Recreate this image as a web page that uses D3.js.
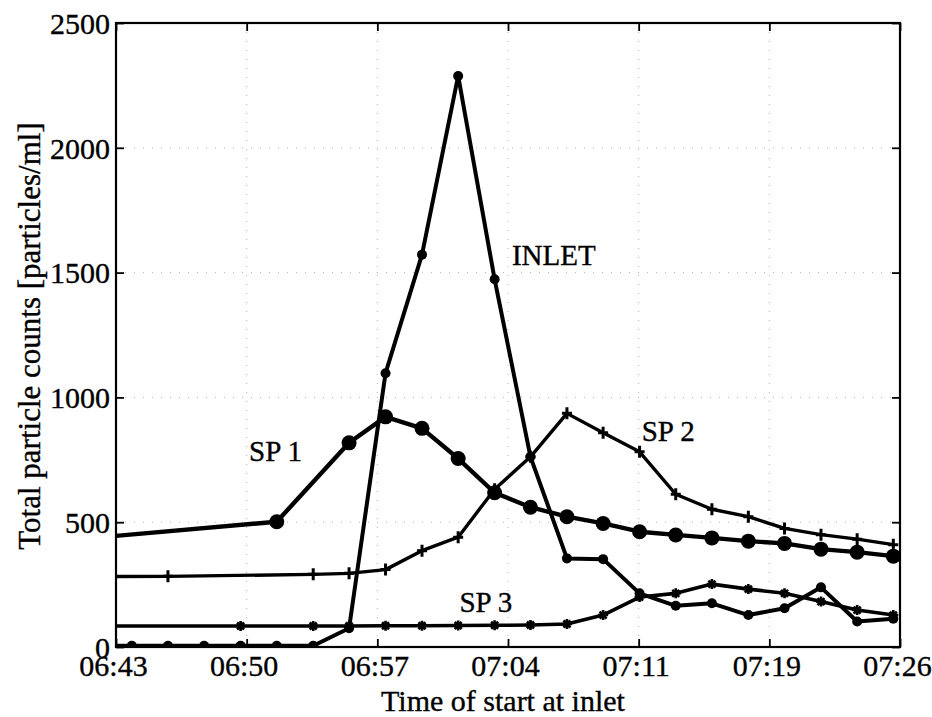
<!DOCTYPE html>
<html>
<head>
<meta charset="utf-8">
<script src="https://cdn.jsdelivr.net/npm/d3@7/dist/d3.min.js"></script>
<style>
  body { margin: 0; background: #fff; }
  svg text { font-family: "Liberation Serif", "DejaVu Serif", serif; fill: #000; stroke: #000; stroke-width: 0.35px; }
</style>
</head>
<body>
<div id="chart"></div>
<script>
// sample times (the first one lies just left of the axis and gets clipped)
var sampleTimes = ["06:41:53", "06:43:52", "06:45:51", "06:47:50", "06:49:50", "06:51:49", "06:53:49",
  "06:55:47", "06:57:47", "06:59:47", "07:01:46", "07:03:46", "07:05:44", "07:07:44", "07:09:43",
  "07:11:43", "07:13:42", "07:15:41", "07:17:41", "07:19:40", "07:21:40", "07:23:39", "07:25:38"];

// particles/ml, null = no sample
var inletValues = [5, 5, 5, 5, 5, 5, 5, 75, 1097, 1572, 2288, 1473, 762, 355, 352, 215, 165, 175, 128, 155, 239, 102, 113];
var sp1Values = [438, null, null, null, null, 502, null, 818, 922, 876, 755, 618, 560, 522, 495, 462, 449, 437, 424, 415, 392, 380, 364];
var sp2Values = [282, null, 283, null, null, null, 291, 295, 310, 386, 440, 632, 762, 936, 858, 782, 612, 552, 522, 475, 450, 432, 410];
var sp3Values = [84, null, null, null, 84, null, 84, 84, 85, 85, 86, 87, 88, 92, 128, 200, 215, 252, 232, 215, 182, 148, 128];

var xTickTimes = ["06:43:00", "06:50:10", "06:57:20", "07:04:30", "07:11:40", "07:18:50", "07:26:00"];
var xTickLabels = ["06:43", "06:50", "06:57", "07:04", "07:11", "07:19", "07:26"];
var yTicks = [0, 500, 1000, 1500, 2000, 2500];

var width = 932, height = 717;
// plot box in pixels (not "top": that name is taken by window.top)
var box = { left: 116, right: 900, top: 23, bottom: 647 };

var parseTime = d3.timeParse("%H:%M:%S");

var svg = d3.select("#chart").append("svg")
  .attr("width", width)
  .attr("height", height);

var x = d3.scaleTime()
  .domain([parseTime("06:43:00"), parseTime("07:26:00")])
  .range([box.left, box.right]);

var y = d3.scaleLinear()
  .domain([0, 2500])
  .range([box.bottom, box.top]);

svg.append("clipPath").attr("id", "plotclip")
  .append("rect")
  .attr("x", box.left).attr("y", box.top - 10)
  .attr("width", box.right - box.left).attr("height", box.bottom - box.top + 10);

// dotted grid, very faint like the scan
var grid = svg.append("g")
  .attr("stroke", "#b5b5b5")
  .attr("stroke-width", 1)
  .attr("stroke-dasharray", "1,8");

grid.selectAll(".vgrid")
  .data(xTickTimes.slice(1, -1))
  .enter().append("line")
  .attr("x1", function(d) { return x(parseTime(d)); })
  .attr("x2", function(d) { return x(parseTime(d)); })
  .attr("y1", box.top).attr("y2", box.bottom);

grid.selectAll(".hgrid")
  .data(yTicks.slice(1, -1))
  .enter().append("line")
  .attr("x1", box.left).attr("x2", box.right)
  .attr("y1", function(d) { return y(d); })
  .attr("y2", function(d) { return y(d); });

// axes: bottom/left with labels, top/right ticks only
var xAxis = d3.axisBottom(x)
  .tickValues(xTickTimes.map(parseTime))
  .tickSizeInner(-8).tickSizeOuter(0).tickPadding(14)
  .tickFormat(function(d, i) { return xTickLabels[i]; });

var yAxis = d3.axisLeft(y)
  .tickValues(yTicks)
  .tickFormat(d3.format("d"))
  .tickSizeInner(-8).tickSizeOuter(0).tickPadding(6);

var gx = svg.append("g")
  .attr("transform", "translate(0," + box.bottom + ")")
  .call(xAxis);
var gy = svg.append("g")
  .attr("transform", "translate(" + box.left + ",0)")
  .call(yAxis);
var gxt = svg.append("g")
  .attr("transform", "translate(0," + box.top + ")")
  .call(d3.axisTop(x).tickValues(xTickTimes.map(parseTime)).tickSizeInner(-8).tickSizeOuter(0).tickFormat(""));
var gyr = svg.append("g")
  .attr("transform", "translate(" + box.right + ",0)")
  .call(d3.axisRight(y).tickValues(yTicks).tickSizeInner(-8).tickSizeOuter(0).tickFormat(""));

[gx, gy, gxt, gyr].forEach(function(g) {
  g.attr("font-family", null).attr("font-size", null);
  g.select(".domain").remove();
  g.selectAll(".tick line").attr("stroke", "#000").attr("stroke-width", 1.8);
});

gx.selectAll(".tick text")
  .attr("font-size", 30)
  .attr("dy", "0.5em")
  .attr("dx", -3);
gy.selectAll(".tick text")
  .attr("font-size", 30)
  .attr("dy", "0.34em");

// box
svg.append("rect")
  .attr("x", box.left).attr("y", box.top)
  .attr("width", box.right - box.left).attr("height", box.bottom - box.top)
  .attr("fill", "none")
  .attr("stroke", "#000")
  .attr("stroke-width", 2.2);

// series
function points(values) {
  return sampleTimes.map(function(t, i) { return { t: parseTime(t), v: values[i] }; })
    .filter(function(d) { return d.v !== null; });
}

var line = d3.line()
  .x(function(d) { return x(d.t); })
  .y(function(d) { return y(d.v); });

var plot = svg.append("g").attr("clip-path", "url(#plotclip)");

var series = [
  { name: "SP 3", values: sp3Values, lw: 3.6, marker: "star" },
  { name: "SP 2", values: sp2Values, lw: 3.4, marker: "plus" },
  { name: "SP 1", values: sp1Values, lw: 4.4, marker: "big" },
  { name: "INLET", values: inletValues, lw: 4, marker: "dot" }
];

series.forEach(function(s) {
  var pts = points(s.values);
  plot.append("path")
    .datum(pts)
    .attr("d", line)
    .attr("fill", "none")
    .attr("stroke", "#000")
    .attr("stroke-width", s.lw)
    .attr("stroke-linejoin", "round");

  var m = plot.selectAll(null)
    .data(pts)
    .enter().append("g")
    .attr("transform", function(d) { return "translate(" + x(d.t) + "," + y(d.v) + ")"; });

  if (s.marker === "dot" || s.marker === "big") {
    m.append("circle")
      .attr("r", s.marker === "big" ? 7.5 : 5)
      .attr("fill", "#000");
  } else if (s.marker === "plus") {
    m.append("path")
      .attr("d", "M0,-6V6M-5,0H5")
      .attr("stroke", "#000")
      .attr("stroke-width", 3);
  } else {
    m.append("path")
      .attr("d", "M0,-5V5M-5,0H5M-3.5,-3.5L3.5,3.5M-3.5,3.5L3.5,-3.5")
      .attr("stroke", "#000")
      .attr("stroke-width", 2.6);
  }
});

// in-plot labels
var labels = [
  { text: "INLET", t: "07:04:43", v: 1530 },
  { text: "SP 1", t: "06:50:18", v: 745 },
  { text: "SP 2", t: "07:11:50", v: 826 },
  { text: "SP 3", t: "07:01:50", v: 141 }
];
svg.selectAll(".lbl")
  .data(labels)
  .enter().append("text")
  .attr("x", function(d) { return x(parseTime(d.t)); })
  .attr("y", function(d) { return y(d.v); })
  .attr("font-size", 29)
  .text(function(d) { return d.text; });

// axis titles
svg.append("text")
  .attr("x", (box.left + box.right) / 2 - 5)
  .attr("y", 711)
  .attr("text-anchor", "middle")
  .attr("font-size", 30)
  .text("Time of start at inlet");

svg.append("text")
  .attr("transform", "translate(40,336) rotate(-90)")
  .attr("text-anchor", "middle")
  .attr("font-size", 31)
  .text("Total particle counts [particles/ml]");
</script>
</body>
</html>
